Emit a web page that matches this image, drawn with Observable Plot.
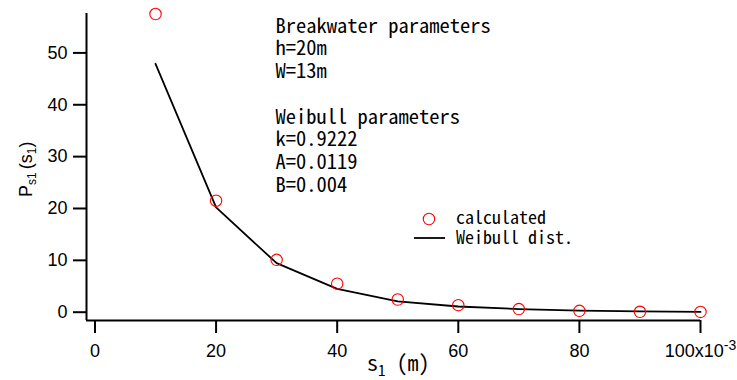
<!DOCTYPE html>
<html>
<head>
<meta charset="utf-8">
<script src="https://cdn.jsdelivr.net/npm/d3@7"></script>
<script src="https://cdn.jsdelivr.net/npm/@observablehq/plot@0.6"></script>
<style>
  body { margin: 0; background: #fff; }
  #chart svg { display: block; }
</style>
</head>
<body>
<div id="chart"></div>
<script>
// Gap s1 (x10^-3 m) and the probability density P_s1(s1)
const s1 = [10, 20, 30, 40, 50, 60, 70, 80, 90, 100];
const calculated = [57.5, 21.5, 10.1, 5.5, 2.45, 1.35, 0.6, 0.27, 0.08, 0.05];
const weibullDist = [47.9, 20.2, 9.45, 4.5, 2.1, 1.1, 0.6, 0.3, 0.15, 0.05];

const xTicks = [0, 20, 40, 60, 80, 100];
const yTicks = [0, 10, 20, 30, 40, 50];
const xDomain = [-1.4, 100];
const yDomain = [-1.6, 57.6];

const paramLines = [
  "Breakwater parameters",
  "h=20m",
  "W=13m",
  "",
  "Weibull parameters",
  "k=0.9222",
  "A=0.0119",
  "B=0.004"
];
const legendLabels = ["calculated", "Weibull dist."];

const rows = s1.map((x, i) => ({ x, calc: calculated[i], fit: weibullDist[i] }));

const mono = "'Noto Sans Mono CJK JP', 'Liberation Mono', monospace";
const sans = "'Liberation Sans', Arial, sans-serif";

const chart = Plot.plot({
  width: 737,
  height: 380,
  marginLeft: 86,
  marginRight: 37,
  marginTop: 13,
  marginBottom: 60,
  style: { fontFamily: sans, background: "#fff", color: "#000" },
  x: { domain: xDomain, ticks: xTicks },
  y: { domain: yDomain, ticks: yTicks },
  marks: [
    Plot.axisY({
      ticks: yTicks, tickSize: 13, tickPadding: 6, fontSize: 18,
      strokeWidth: 2, label: null
    }),
    Plot.axisX({
      ticks: xTicks, tickSize: 13, tickPadding: 11, fontSize: 18,
      strokeWidth: 2, label: null,
      tickFormat: d => d === 100 ? "100x10" : String(d)
    }),
    // axis lines along the left and bottom edges of the frame
    Plot.ruleX([xDomain[0]], { stroke: "#000", strokeWidth: 2 }),
    Plot.ruleY([yDomain[0]], { stroke: "#000", strokeWidth: 2 }),
    Plot.line(rows, { x: "x", y: "fit", stroke: "#000", strokeWidth: 1.8 }),
    Plot.dot(rows, { x: "x", y: "calc", r: 5.7, stroke: "#ff0000", strokeWidth: 1.1, fill: "none" }),
    Plot.text([paramLines.join("\n")], {
      frameAnchor: "top-left", textAnchor: "start", lineAnchor: "top",
      dx: 189, dy: 3, fontSize: 20.5, lineHeight: 1.11,
      fontFamily: mono, fill: "#000"
    })
  ]
});

document.getElementById("chart").appendChild(chart);

const svg = d3.select(chart);

// superscript exponent on the last x tick label
svg.selectAll("text").filter(function () { return this.textContent === "100x10"; })
  .each(function () {
    d3.select(this).append("tspan").attr("dy", "-0.55em").attr("font-size", 14).text("-3");
  });

// legend
const lg = svg.append("g").attr("font-family", mono).attr("font-size", 18)
  .attr("fill", "#000").attr("text-anchor", "start");
lg.append("circle").attr("cx", 429).attr("cy", 219).attr("r", 5.7)
  .attr("fill", "none").attr("stroke", "#ff0000").attr("stroke-width", 1.1);
lg.append("line").attr("x1", 414).attr("x2", 445).attr("y1", 238).attr("y2", 238)
  .attr("stroke", "#000").attr("stroke-width", 1.8);
lg.append("text").attr("x", 456).attr("y", 224).text(legendLabels[0]);
lg.append("text").attr("x", 456).attr("y", 244).text(legendLabels[1]);

// x axis title: s1 (m)
const xt = svg.append("text").attr("x", 367).attr("y", 371).attr("text-anchor", "start")
  .attr("font-family", mono).attr("font-size", 22).attr("fill", "#000");
xt.append("tspan").text("s");
xt.append("tspan").attr("dy", 5).attr("font-size", 15).text("1");
xt.append("tspan").attr("dy", -5).text(" (m)");

// y axis title: Ps1(s1)
const yt = svg.append("text").attr("text-anchor", "start")
  .attr("transform", "translate(32,197) rotate(-90)")
  .attr("font-family", sans).attr("font-size", 18).attr("fill", "#000");
yt.append("tspan").text("P");
yt.append("tspan").attr("dy", 4).attr("font-size", 12).text("s1");
yt.append("tspan").attr("dy", -4).attr("dx", 3).text("(s");
yt.append("tspan").attr("dy", 4).attr("font-size", 12).text("1");
yt.append("tspan").attr("dy", -4).text(")");
</script>
</body>
</html>
